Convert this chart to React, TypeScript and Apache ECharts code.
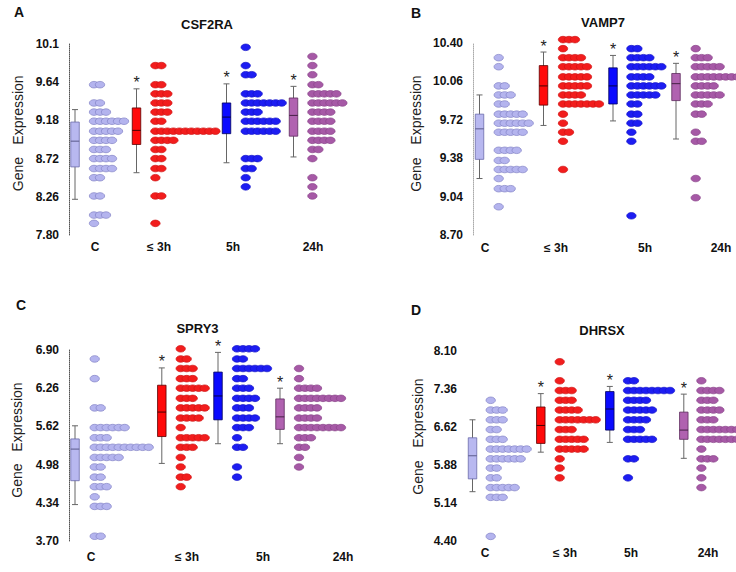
import React, { useEffect, useRef } from "react";
import * as echarts from "echarts";

// ---------- data ----------
const groups = ["C", "≤ 3h", "5h", "24h"];
const titles = ["CSF2RA", "VAMP7", "SPRY3", "DHRSX"];
const letters = ["A", "B", "C", "D"];

const yTicksA = ["7.80", "8.26", "8.72", "9.18", "9.64", "10.1"];
const yTicksB = ["8.70", "9.04", "9.38", "9.72", "10.06", "10.40"];
const yTicksC = ["3.70", "4.34", "4.98", "5.62", "6.26", "6.90"];
const yTicksD = ["4.40", "5.14", "5.88", "6.62", "7.36", "8.10"];

// box: [low whisker, Q1, median, Q3, high whisker]
const boxA = [[8.23, 8.62, 8.93, 9.16, 9.31], [8.55, 8.89, 9.06, 9.33, 9.56], [8.67, 9.02, 9.22, 9.39, 9.62], [8.74, 8.99, 9.24, 9.45, 9.59]];
const boxB = [[9.20, 9.37, 9.64, 9.77, 9.94], [9.67, 9.85, 10.02, 10.20, 10.32], [9.71, 9.86, 10.02, 10.18, 10.29], [9.55, 9.89, 10.04, 10.13, 10.22]];
const boxC = [[4.31, 4.71, 5.24, 5.41, 5.63], [5.00, 5.45, 5.86, 6.31, 6.60], [5.33, 5.73, 6.13, 6.53, 6.86], [5.33, 5.57, 5.78, 6.08, 6.26]];
const boxD = [[5.36, 5.61, 6.06, 6.41, 6.76], [6.13, 6.30, 6.65, 7.01, 7.27], [6.32, 6.56, 6.97, 7.31, 7.41], [6.01, 6.38, 6.56, 6.91, 7.26]];
const significant = [0, 1, 1, 1];

// dot rows: [expression value, number of samples]
const dotsA_C = [[9.61, 2], [9.39, 2], [9.28, 3], [9.17, 6], [9.05, 5], [8.94, 4], [8.83, 3], [8.72, 4], [8.60, 4], [8.49, 2], [8.27, 2], [8.04, 3], [7.94, 1]];
const dotsA_3h = [[9.84, 2], [9.61, 2], [9.50, 3], [9.39, 3], [9.28, 3], [9.17, 2], [9.05, 11], [8.94, 4], [8.83, 2], [8.72, 2], [8.60, 2], [8.49, 1], [8.27, 2], [7.94, 1]];
const dotsA_5h = [[10.06, 1], [9.84, 1], [9.73, 2], [9.50, 3], [9.39, 7], [9.28, 3], [9.17, 6], [9.05, 6], [8.72, 3], [8.60, 2], [8.49, 1], [8.38, 1]];
const dotsA_24h = [[9.95, 1], [9.84, 1], [9.73, 1], [9.61, 2], [9.50, 5], [9.39, 6], [9.28, 4], [9.17, 4], [9.05, 4], [8.94, 4], [8.83, 2], [8.72, 1], [8.49, 1], [8.38, 1], [8.27, 1]];

const dotsB_C = [[10.27, 1], [10.19, 1], [10.02, 2], [9.94, 3], [9.86, 2], [9.77, 5], [9.69, 6], [9.61, 5], [9.45, 4], [9.36, 2], [9.28, 5], [9.20, 1], [9.11, 3], [8.95, 1]];
const dotsB_3h = [[10.43, 3], [10.35, 1], [10.27, 4], [10.19, 5], [10.10, 5], [10.02, 5], [9.94, 4], [9.86, 7], [9.77, 1], [9.69, 1], [9.61, 2], [9.53, 1], [9.28, 1]];
const dotsB_5h = [[10.35, 2], [10.27, 4], [10.19, 6], [10.10, 4], [10.02, 6], [9.94, 5], [9.86, 2], [9.77, 2], [9.69, 2], [9.61, 1], [9.53, 1], [8.87, 1]];
const dotsB_24h = [[10.35, 1], [10.27, 3], [10.19, 5], [10.10, 8], [10.02, 4], [9.94, 5], [9.86, 3], [9.77, 2], [9.61, 1], [9.53, 2], [9.20, 1], [9.03, 1]];

const dotsC_C = [[6.75, 1], [6.42, 1], [5.93, 2], [5.60, 6], [5.43, 3], [5.27, 10], [5.10, 5], [4.94, 2], [4.77, 2], [4.61, 3], [4.44, 1], [4.28, 3], [3.78, 2]];
const dotsC_3h = [[6.92, 1], [6.75, 2], [6.59, 3], [6.42, 3], [6.26, 5], [6.09, 3], [5.93, 5], [5.76, 4], [5.60, 1], [5.43, 5], [5.27, 3], [5.10, 1], [4.94, 1], [4.77, 2], [4.61, 1]];
const dotsC_5h = [[6.92, 4], [6.75, 2], [6.59, 6], [6.42, 2], [6.26, 3], [6.09, 4], [5.93, 3], [5.76, 4], [5.60, 3], [5.43, 1], [5.27, 2], [4.94, 1], [4.77, 1]];
const dotsC_24h = [[6.59, 1], [6.42, 1], [6.26, 4], [6.09, 8], [5.93, 4], [5.76, 4], [5.60, 8], [5.43, 3], [5.27, 2], [5.10, 1], [4.94, 1]];

const dotsD_C = [[7.14, 1], [6.95, 3], [6.76, 3], [6.57, 2], [6.38, 3], [6.19, 7], [6.00, 6], [5.82, 2], [5.63, 2], [5.44, 5], [5.25, 3], [4.49, 1]];
const dotsD_3h = [[7.89, 1], [7.52, 1], [7.33, 3], [7.14, 3], [6.95, 4], [6.76, 7], [6.57, 3], [6.38, 5], [6.19, 5], [6.00, 1], [5.82, 1], [5.63, 1]];
const dotsD_5h = [[7.52, 2], [7.33, 8], [7.14, 4], [6.95, 5], [6.76, 4], [6.57, 3], [6.38, 5], [6.00, 2], [5.63, 1]];
const dotsD_24h = [[7.52, 1], [7.33, 4], [7.14, 3], [6.95, 4], [6.76, 3], [6.57, 8], [6.38, 8], [6.19, 1], [6.00, 3], [5.82, 1], [5.63, 1], [5.44, 1]];

// ---------- layout & style ----------
const FONT = "Liberation Sans, Arial, Helvetica, sans-serif";
const boxFill = ["#b8b8f0", "#ff0a0a", "#0a0aff", "#b062b0"];
const boxStroke = ["#6a6aaa", "#5a0000", "#00005a", "#5e2c5e"];
const medianColor = ["#505080", "#300000", "#000030", "#3a1a3a"];
const dotFill = ["#b4b4ee", "#f21d1d", "#1d1df2", "#a659a6"];
const dotStroke = ["#8383c6", "#d01414", "#1414c8", "#894489"];

const panelLayouts = [
  { grid: { left: 69, top: 44, width: 299, height: 191 }, axisColor: "#555", showAxis: true,
    boxX: [75, 136.5, 226.5, 293.5], dotX: [89.3, 150.7, 241, 307.7],
    labelX: [95, 159, 233, 313], labelY: 247, title: [207, 24], letter: [19, 12],
    yNameX: 18, exprY: 110, geneY: 174 },
  { grid: { left: 473, top: 43, width: 263, height: 192 }, axisColor: "#aaa", showAxis: true,
    boxX: [479.5, 543.5, 613, 676], dotX: [494, 558.3, 626.7, 691],
    labelX: [485, 556, 645, 721], labelY: 248, title: [603, 22], letter: [416, 13],
    yNameX: 416, exprY: 110, geneY: 174.5 },
  { grid: { left: 69, top: 350, width: 299, height: 191 }, axisColor: "#555", showAxis: true,
    boxX: [75, 161.8, 218, 280], dotX: [90, 176, 232.3, 294.3],
    labelX: [91, 187, 263, 343], labelY: 556.5, title: [197.5, 328], letter: [21, 305],
    yNameX: 16.5, exprY: 417, geneY: 480.5 },
  { grid: { left: 467, top: 351, width: 269, height: 190 }, axisColor: "#555", showAxis: false,
    boxX: [472.5, 540.8, 609.8, 683.8], dotX: [486, 555, 623.3, 696.7],
    labelX: [485, 565, 631, 708], labelY: 552.5, title: [602, 330], letter: [416, 310],
    yNameX: 418, exprY: 413, geneY: 477.5 },
];

const panels = [
  { ticks: yTicksA, interval: 0.46, box: boxA, dots: [dotsA_C, dotsA_3h, dotsA_5h, dotsA_24h] },
  { ticks: yTicksB, interval: 0.34, box: boxB, dots: [dotsB_C, dotsB_3h, dotsB_5h, dotsB_24h] },
  { ticks: yTicksC, interval: 0.64, box: boxC, dots: [dotsC_C, dotsC_3h, dotsC_5h, dotsC_24h] },
  { ticks: yTicksD, interval: 0.74, box: boxD, dots: [dotsD_C, dotsD_3h, dotsD_5h, dotsD_24h] },
];

const DOT_RX = 4.7;
const DOT_RY = 3.3;
const DOT_STEP = 6;
const BOX_W = 8.5;
const CAP_W = 6;

function buildOption() {
  const grids: any[] = [];
  const xAxes: any[] = [];
  const yAxes: any[] = [];
  const series: any[] = [];
  const graphics: any[] = [];

  panels.forEach((p, k) => {
    const L = panelLayouts[k];
    const min = parseFloat(p.ticks[0]);
    const max = parseFloat(p.ticks[p.ticks.length - 1]);
    grids.push({ ...L.grid, containLabel: false });
    xAxes.push({
      type: "value", gridIndex: k, min: L.grid.left, max: L.grid.left + L.grid.width, show: false,
    });
    yAxes.push({
      type: "value", gridIndex: k, min, max, interval: p.interval,
      axisLine: { show: L.showAxis, lineStyle: { color: L.axisColor, type: "dotted", width: 1 } },
      axisTick: { show: false },
      splitLine: { show: false },
      axisLabel: {
        margin: 10, color: "#111", fontWeight: "bold", fontSize: 12, fontFamily: FONT,
        formatter: (v: number) => {
          const t = p.ticks.find((s) => Math.abs(parseFloat(s) - v) < 1e-6);
          return t ?? "";
        },
      },
    });

    // box plots
    series.push({
      type: "custom", xAxisIndex: k, yAxisIndex: k, silent: true, z: 3,
      encode: { x: 0, y: [1, 2, 3, 4, 5] },
      data: p.box.map((b, g) => [L.boxX[g], ...b, g, significant[g]]),
      renderItem: (params: any, api: any) => {
        const x = api.value(0);
        const lo = api.coord([x, api.value(1)]);
        const q1 = api.coord([x, api.value(2)]);
        const md = api.coord([x, api.value(3)]);
        const q3 = api.coord([x, api.value(4)]);
        const hi = api.coord([x, api.value(5)]);
        const g = api.value(6);
        const sig = api.value(7);
        const cx = lo[0];
        const wl = { stroke: "#666", lineWidth: 1 };
        const children: any[] = [
          { type: "line", shape: { x1: cx, y1: hi[1], x2: cx, y2: lo[1] }, style: wl },
          { type: "line", shape: { x1: cx - CAP_W / 2, y1: hi[1], x2: cx + CAP_W / 2, y2: hi[1] }, style: wl },
          { type: "line", shape: { x1: cx - CAP_W / 2, y1: lo[1], x2: cx + CAP_W / 2, y2: lo[1] }, style: wl },
          { type: "rect", shape: { x: cx - BOX_W / 2, y: q3[1], width: BOX_W, height: q1[1] - q3[1] },
            style: { fill: boxFill[g], stroke: boxStroke[g], lineWidth: 0.8 } },
          { type: "line", shape: { x1: cx - BOX_W / 2, y1: md[1], x2: cx + BOX_W / 2, y2: md[1] },
            style: { stroke: medianColor[g], lineWidth: 0.9 } },
        ];
        if (sig) {
          children.push({
            type: "text", x: cx, y: hi[1] - 6,
            style: { text: "*", fontSize: 16, fontFamily: FONT, fill: "#222", align: "center", verticalAlign: "middle" },
          });
        }
        return { type: "group", children };
      },
    });

    // dot rows
    p.dots.forEach((rows, g) => {
      series.push({
        type: "custom", xAxisIndex: k, yAxisIndex: k, silent: true, z: 2,
        encode: { x: 0, y: 1 },
        data: rows.map(([v, n]) => [L.dotX[g], v, n, g]),
        renderItem: (params: any, api: any) => {
          const pt = api.coord([api.value(0), api.value(1)]);
          const n = api.value(2);
          const gi = api.value(3);
          const children: any[] = [];
          for (let i = 0; i < n; i++) {
            children.push({
              type: "ellipse",
              shape: { cx: pt[0] + DOT_RX + i * DOT_STEP, cy: pt[1], rx: DOT_RX, ry: DOT_RY },
              style: { fill: dotFill[gi], stroke: dotStroke[gi], lineWidth: 0.7 },
            });
          }
          return { type: "group", children };
        },
      });
    });

    // texts
    graphics.push({
      type: "text", x: L.title[0], y: L.title[1],
      style: { text: titles[k], fontSize: 13, fontWeight: "bold", fontFamily: FONT, fill: "#111", align: "center", verticalAlign: "middle" },
    });
    graphics.push({
      type: "text", x: L.letter[0], y: L.letter[1],
      style: { text: letters[k], fontSize: 14, fontWeight: "bold", fontFamily: FONT, fill: "#111", align: "center", verticalAlign: "middle" },
    });
    graphics.push({
      type: "text", x: L.yNameX, y: L.exprY, rotation: Math.PI / 2,
      style: { text: "Expression", fontSize: 14, fontFamily: FONT, fill: "#222", align: "center", verticalAlign: "middle" },
    });
    graphics.push({
      type: "text", x: L.yNameX, y: L.geneY, rotation: Math.PI / 2,
      style: { text: "Gene", fontSize: 14, fontFamily: FONT, fill: "#222", align: "center", verticalAlign: "middle" },
    });
    groups.forEach((name, g) => {
      graphics.push({
        type: "text", x: L.labelX[g], y: L.labelY,
        style: { text: name, fontSize: 12, fontWeight: "bold", fontFamily: FONT, fill: "#111", align: "center", verticalAlign: "middle" },
      });
    });
  });

  return {
    animation: false,
    backgroundColor: "#ffffff",
    textStyle: { fontFamily: FONT },
    grid: grids,
    xAxis: xAxes,
    yAxis: yAxes,
    series,
    graphic: graphics,
  };
}

export default function App() {
  const ref = useRef<HTMLDivElement>(null);
  useEffect(() => {
    document.body.style.margin = "0";
    const chart = echarts.init(ref.current!, undefined, { renderer: "svg" });
    chart.setOption(buildOption() as any);
    return () => chart.dispose();
  }, []);
  return <div ref={ref} style={{ width: 736, height: 572 }} />;
}
